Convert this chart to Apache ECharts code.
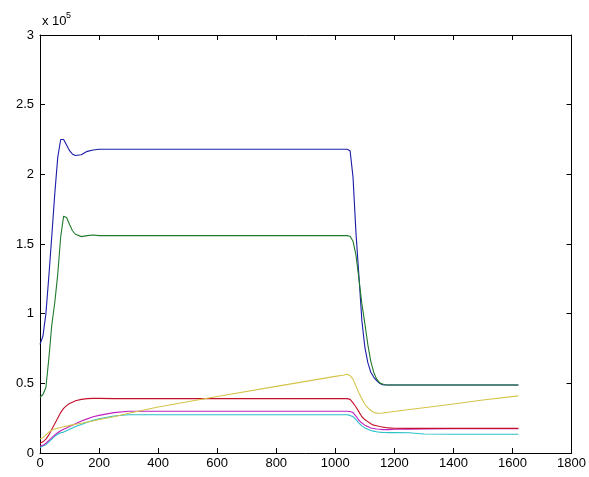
<!DOCTYPE html>
<html>
<head>
<meta charset="utf-8">
<script src="https://cdn.jsdelivr.net/npm/echarts@6/dist/echarts.min.js"></script>
<style>
html,body{margin:0;padding:0;background:#fff;}
#chart{width:589px;height:477px;}
</style>
</head>
<body>
<div id="chart"></div>
<script>
// x values (time)
const X = [0,10,20,30,40,50,60,70,80,90,100,110,120,140,160,180,200,250,300,400,600,800,1000,1030,1040,1050,1060,1070,1080,1090,1100,1110,1120,1130,1140,1150,1160,1170,1180,1200,1250,1300,1400,1500,1620];
// series values, in units of 1e5
const blue = [0.78,0.84,1.0,1.27,1.56,1.86,2.12,2.25,2.25,2.21,2.17,2.145,2.135,2.14,2.165,2.175,2.18,2.18,2.18,2.18,2.18,2.18,2.18,2.18,2.18,2.17,1.98,1.58,1.27,0.95,0.76,0.65,0.58,0.545,0.52,0.5,0.49,0.488,0.488,0.488,0.488,0.488,0.488,0.488,0.488];
const green = [0.40,0.42,0.47,0.68,0.92,1.08,1.28,1.55,1.70,1.69,1.64,1.595,1.57,1.553,1.56,1.565,1.56,1.56,1.56,1.56,1.56,1.56,1.56,1.56,1.56,1.555,1.52,1.42,1.25,1.07,0.93,0.78,0.66,0.58,0.53,0.505,0.495,0.49,0.488,0.488,0.488,0.488,0.488,0.488,0.488];
const red = [0.07,0.08,0.10,0.13,0.17,0.21,0.25,0.29,0.32,0.34,0.355,0.365,0.375,0.385,0.39,0.392,0.392,0.39,0.39,0.39,0.39,0.39,0.39,0.39,0.39,0.385,0.36,0.33,0.295,0.26,0.24,0.225,0.21,0.2,0.195,0.19,0.186,0.183,0.18,0.178,0.177,0.177,0.177,0.177,0.177];
const magenta = [0.05,0.055,0.07,0.09,0.11,0.13,0.145,0.16,0.17,0.18,0.19,0.2,0.21,0.23,0.245,0.26,0.27,0.29,0.30,0.30,0.30,0.30,0.30,0.30,0.30,0.298,0.29,0.265,0.235,0.215,0.2,0.19,0.18,0.176,0.172,0.17,0.168,0.168,0.168,0.17,0.171,0.172,0.174,0.175,0.175];
const cyan = [0.04,0.05,0.06,0.08,0.10,0.12,0.135,0.145,0.15,0.16,0.17,0.18,0.19,0.205,0.22,0.235,0.245,0.265,0.275,0.275,0.275,0.275,0.275,0.275,0.275,0.27,0.26,0.24,0.215,0.195,0.18,0.17,0.162,0.157,0.153,0.15,0.148,0.147,0.146,0.146,0.145,0.136,0.135,0.135,0.135];
const yellow = [0.10,0.11,0.13,0.15,0.163,0.172,0.178,0.183,0.188,0.193,0.198,0.202,0.206,0.214,0.222,0.23,0.24,0.26,0.285,0.33,0.405,0.478,0.55,0.56,0.565,0.555,0.53,0.48,0.43,0.39,0.35,0.325,0.305,0.292,0.286,0.285,0.287,0.29,0.293,0.298,0.312,0.325,0.352,0.38,0.41];
// tick labels
const xTicks = [0,200,400,600,800,1000,1200,1400,1600,1800];
const yTicks = [0,0.5,1,1.5,2,2.5,3];

const chart = echarts.init(document.getElementById('chart'), null, {renderer:'canvas'});
const font = 'Liberation Sans, Arial, sans-serif';
const mk = (name, arr, color) => ({
  name, type:'line', data: X.map((x,i)=>[x, arr[i]]), showSymbol:false, symbol:'none',
  lineStyle:{color, width:1.1}, itemStyle:{color}, animation:false
});
const axisCommon = () => ({
  axisLine:{show:true, onZero:false, lineStyle:{color:'#000', width:1}},
  axisTick:{show:true, inside:true, length:5, lineStyle:{color:'#000'}},
  splitLine:{show:false}
});
chart.setOption({
  backgroundColor:'#fff',
  animation:false,
  grid:{left:40, right:16, top:35, bottom:24, show:false},
  xAxis:[
    Object.assign({type:'value', min:0, max:1800, interval:200, position:'bottom',
      axisLabel:{color:'#000', fontSize:13, fontFamily:font, margin:4,
        formatter: v => xTicks.includes(v) ? String(v) : ''}}, axisCommon()),
    Object.assign({type:'value', min:0, max:1800, interval:200, position:'top',
      axisLabel:{show:false}}, axisCommon())
  ],
  yAxis:[
    Object.assign({type:'value', min:0, max:3, interval:0.5, position:'left',
      axisLabel:{color:'#000', fontSize:13, fontFamily:font, margin:6,
        formatter: v => yTicks.includes(v) ? String(v) : ''}}, axisCommon()),
    Object.assign({type:'value', min:0, max:3, interval:0.5, position:'right',
      axisLabel:{show:false}}, axisCommon())
  ],
  graphic:[
    {type:'text', left:42, top:15, style:{text:'x 10', font:'13px '+font, fill:'#000'}},
    {type:'text', left:66, top:11, style:{text:'5', font:'9px '+font, fill:'#000'}}
  ],
  series:[
    mk('blue', blue, '#1c1ca8'),
    mk('green', green, '#1f7a2a'),
    mk('cyan', cyan, '#2cc0c8'),
    mk('magenta', magenta, '#c020c0'),
    mk('red', red, '#c4102c'),
    mk('yellow', yellow, '#d4c448')
  ]
});
</script>
</body>
</html>
